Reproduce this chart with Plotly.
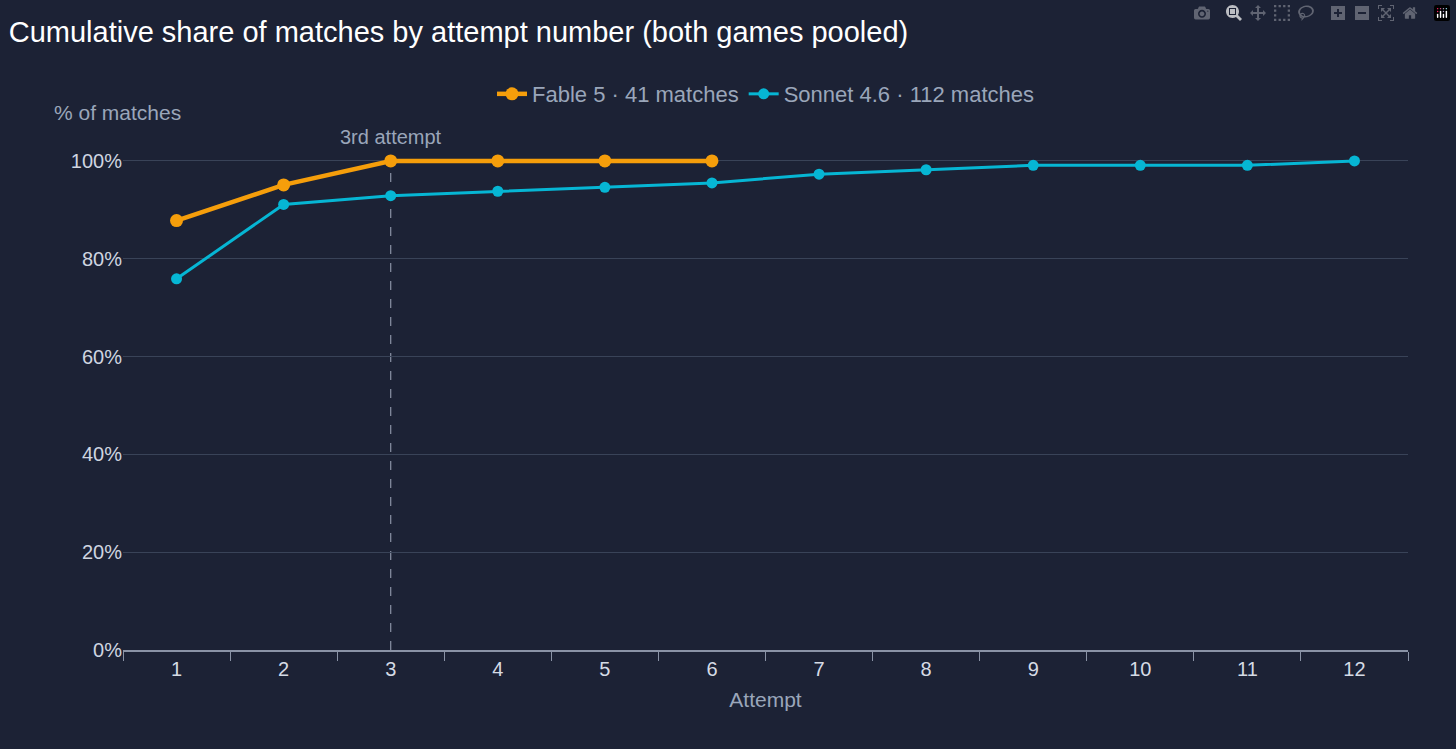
import plotly.graph_objects as go

# attempt numbers and cumulative share (%) of matches
attempts = list(range(1, 13))
fable_att = [1, 2, 3, 4, 5, 6]
fable_pct = [87.8, 95.1, 100, 100, 100, 100]
sonnet_pct = [75.9, 91.1, 92.9, 93.8, 94.6, 95.5, 97.3, 98.2, 99.1, 99.1, 99.1, 100]

orange = '#f59e0b'
cyan = '#06b6d4'
muted = '#9aa6ba'
bg = '#1c2235'

fig = go.Figure()
fig.add_trace(go.Scatter(x=fable_att, y=fable_pct, name='Fable 5 · 41 matches',
                         mode='lines+markers', line=dict(color=orange, width=4.5),
                         marker=dict(size=13, color=orange), cliponaxis=False))
fig.add_trace(go.Scatter(x=attempts, y=sonnet_pct, name='Sonnet 4.6 · 112 matches',
                         mode='lines+markers', line=dict(color=cyan, width=3),
                         marker=dict(size=11, color=cyan), cliponaxis=False))

# marker line for the 3rd attempt
fig.add_shape(type='line', x0=3, x1=3, y0=0, y1=100, xref='x', yref='y',
              line=dict(color='#8a93a6', width=1.2, dash='dash'), layer='below')
fig.add_annotation(x=3, y=100, yshift=24, text='3rd attempt', showarrow=False,
                   font=dict(size=20, color=muted))
fig.add_annotation(xref='paper', yref='paper', x=-0.055, y=1.065,
                   xanchor='left', yanchor='bottom', text='% of matches',
                   showarrow=False, font=dict(size=21, color=muted))

fig.update_layout(
    width=1456, height=749,
    paper_bgcolor=bg, plot_bgcolor=bg,
    font=dict(family='Liberation Sans, Arial', color=muted, size=20),
    title=dict(text='Cumulative share of matches by attempt number (both games pooled)',
               x=0.006, xanchor='left', y=0.958, yanchor='middle',
               font=dict(size=29, color='white')),
    margin=dict(l=123, r=48, t=158, b=99),
    showlegend=True,
    legend=dict(orientation='h', x=0.5, xanchor='center', y=1.13, yanchor='middle',
                font=dict(size=22, color=muted), bgcolor='rgba(0,0,0,0)'),
    xaxis=dict(range=[0.5, 12.5], tickvals=attempts, ticklen=0, showgrid=False,
               showline=True, linecolor='#8a93a6', linewidth=1.5,
               tickfont=dict(size=20, color='#d5dbe5'), zeroline=False,
               title=dict(text='Attempt', font=dict(size=21, color=muted), standoff=14),
               minor=dict(tick0=0.5, dtick=1, ticklen=9, tickcolor='#8a93a6',
                          ticks='outside', showgrid=False)),
    yaxis=dict(range=[0, 100.6], tickvals=[0, 20, 40, 60, 80, 100],
               ticktext=['0%', '20%', '40%', '60%', '80%', '100%'],
               gridcolor='#394358', zeroline=False, ticks='',
               tickfont=dict(size=20, color='#cfd5e0')),
)

fig.write_html('out.html',
               post_script="document.body.style.margin='0';document.body.style.background='%s';" % bg)
